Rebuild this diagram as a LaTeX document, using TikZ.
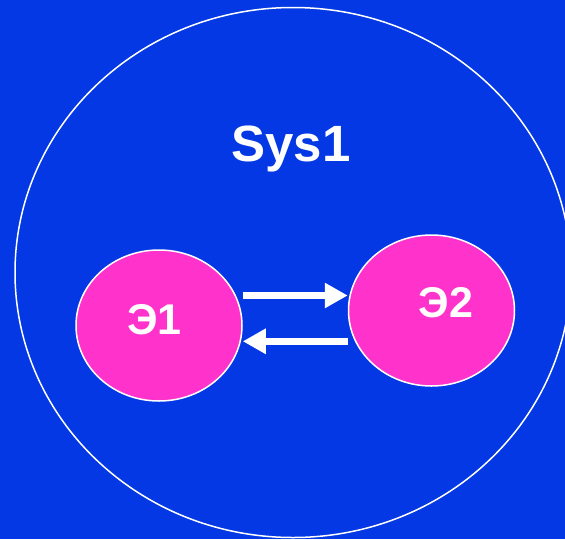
\documentclass[tikz,border=0pt]{standalone}
\usepackage{fontspec}
\setmainfont{Liberation Sans}
\usetikzlibrary{shapes.geometric,arrows.meta}
\definecolor{bgblue}{RGB}{4,56,228}
\definecolor{elpink}{RGB}{255,51,204}
\tikzset{
  elem/.style={ellipse,draw=white,line width=1.5pt,fill=elpink,minimum width=166pt,minimum height=151pt,inner sep=0pt},
  elemtext/.style={text=white,font=\fontsize{43}{43}\selectfont\bfseries,inner sep=0pt,anchor=base},
  systext/.style={text=white,font=\fontsize{51}{51}\selectfont\bfseries,inner sep=0pt,anchor=base},
  arr/.style={draw=white,line width=7.6pt,-{Triangle[width=24pt,length=23pt]}}
}
\begin{document}
\begin{tikzpicture}[x=1pt,y=-1pt]
\useasboundingbox (0,0) rectangle (565,539);
\fill[bgblue] (0,0) rectangle (565,539);
\begin{scope}
\clip (0,0) rectangle (565,539);
\draw[white,line width=1.5pt] (293,272.5) ellipse [x radius=278pt, y radius=265pt];
\end{scope}
\node[systext] (sys) at (291,161) {Sys1};
\node[elem] (e1) at (159,325.5) {};
\node[elem] (e2) at (431.5,310.5) {};
\node[elemtext] (t1) at (154.5,334.5) {Э1};
\node[elemtext] (t2) at (446,317.5) {Э2};
\draw[arr] (e1.east |- 0,295.5) -- (e2.west |- 0,295.5);
\draw[arr] (e2.west |- 0,341.3) -- (e1.east |- 0,341.3);
\end{tikzpicture}
\end{document}
